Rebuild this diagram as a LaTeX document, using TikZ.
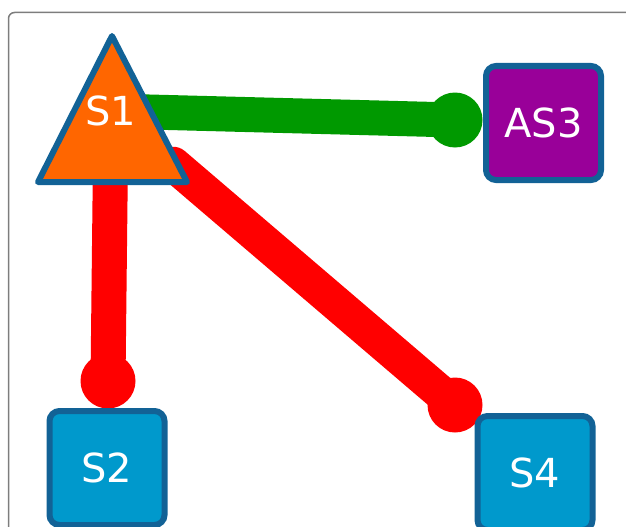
\documentclass[tikz,border=0pt]{standalone}
\usepackage{fontspec}
\setmainfont{DejaVu Sans}
\usetikzlibrary{calc}
\definecolor{edgeblue}{RGB}{18,98,150}
\definecolor{boxblue}{RGB}{0,153,204}
\definecolor{boxpurple}{RGB}{153,0,153}
\definecolor{triorange}{RGB}{255,102,0}
\definecolor{linkgreen}{RGB}{0,153,0}
\definecolor{linkred}{RGB}{255,0,0}
\definecolor{framegray}{RGB}{125,125,125}
\pgfdeclarelayer{bg}
\pgfsetlayers{bg,main}
\tikzset{
  frame/.style={draw=framegray, line width=1.5pt, rounded corners=6pt},
  tri/.style={draw=edgeblue, fill=triorange, line width=6pt, line join=round},
  lbl/.style={text=white, inner sep=0pt, font=\fontsize{40}{48}\selectfont},
  box/.style={lbl, draw=edgeblue, line width=6pt, rounded corners=10pt,
              minimum width=115pt, minimum height=114pt},
  link/.style={line width=35pt},
  endcap/.style={radius=27.5pt}
}
\begin{document}
\begin{tikzpicture}[x=1pt,y=-1pt]
\useasboundingbox (0,0) rectangle (626,527);
\clip (0,0) rectangle (626,527);
% panel border
\draw[frame] (8.5,12.5) rectangle (700,600);

% S1 triangle with its label
\draw[tri] (112,36) -- (187,182) -- (38,182) -- cycle;
\node[lbl] (S1) at (111,111) {S1};

% square nodes
\node[box, fill=boxpurple] (AS3) at (543.5,123) {AS3};
\node[box, fill=boxblue] (S2) at (107,468) {S2};
\node[box, fill=boxblue] (S4) at (535,473) {S4};

% link end points
\coordinate (e3) at (455,120);
\coordinate (e2) at (108,381);
\coordinate (e4) at (455,405);

% links, kept behind the nodes
\begin{pgfonlayer}{bg}
  \draw[link, linkgreen] (S1.center) -- (e3);
  \fill[linkgreen] (e3) circle[endcap];
  \draw[link, linkred] (S1.center) -- (e2);
  \fill[linkred] (e2) circle[endcap];
  \draw[link, linkred, line cap=round, shorten <=82pt] (S1.center) -- (e4);
  \fill[linkred] (e4) circle[endcap];
\end{pgfonlayer}
\end{tikzpicture}
\end{document}
